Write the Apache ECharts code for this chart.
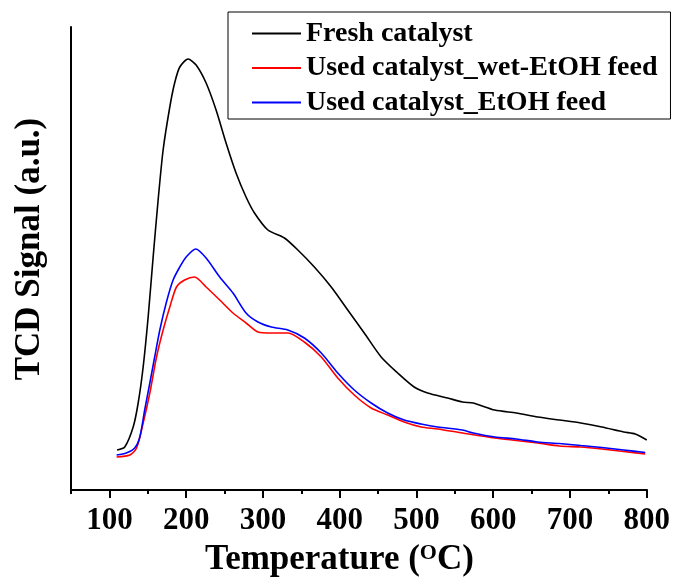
<!DOCTYPE html>
<html>
<head>
<meta charset="utf-8">
<script src="https://cdn.jsdelivr.net/npm/echarts@6/dist/echarts.min.js"></script>
<style>
html,body{margin:0;padding:0;background:#fff;}
#chart{width:673px;height:582px;}
</style>
</head>
<body>
<div id="chart"></div>
<script>
// Temperatures (°C) and TCD signal (arbitrary units)
var freshT = [110,120,131,137.5,144,150.5,157,163.5,170,178.7,185,191.7,202.5,213,226,239,252,265,278,289,306.5,328,345.5,367,389,410.5,432,454,475.5,497,514.5,540.5,560,574,602,630,658,686,714,741.5,770,785,800];
var freshV = [40,43,63,87,123,173,233,290,340,383,407,423,431,425,407,380,347,317,293,277,260,252,240,223,203,180,157,133,117,103,97,92,88,87,80,77,73,70,67,63,58,56,50];

var wetT = [109.4,126.7,135.4,144,152.7,161.4,170,178.7,187.4,198,211,226,243.7,261,278,293.5,311,332.5,354,376,397.5,419,441,462.5,484,506,527.5,560,602,630,658,686,714,741.5,770,798];
var wetV = [33,35,42,67,97,133,160,183,203,210,213,203,190,177,167,158,157,157,148,133,112,95,82,75,68,63,61,57,52,49.5,47,44,43,41,38.5,36];

var etohT = [109.4,122,133,139.7,146,152.7,159,165.7,174,183,191.7,200,212.5,226,243.7,261,278,293.5,311,332.5,354,376,397.5,419,441,462.5,484,506,527.5,560,574,602,630,658,686,714,741.5,770,798];
var etohV = [35,37,42,53,80,107,133,160,187,210,223,233,241,232,213,197,177,168,163,160,152,137,117,100,87,77,70,66,63,60,57,53,51,48,46.5,44.5,42.5,40,37.5];

var seriesNames = ['Fresh catalyst', 'Used catalyst_wet-EtOH feed', 'Used catalyst_EtOH feed'];
var seriesColors = ['#000000', '#ff0000', '#0000ff'];
var xTickLabels = [100,200,300,400,500,600,700,800];

function pairs(t, v){ return t.map(function(x,i){ return [x, v[i]]; }); }

var FONT = '"Liberation Serif","Times New Roman",serif';
var chart = echarts.init(document.getElementById('chart'));
chart.setOption({
  animation: false,
  backgroundColor: '#fff',
  grid: {left: 71, right: 26, top: 27, bottom: 92, containLabel: false},
  legend: {
    orient: 'vertical', left: 228, top: 12,
    padding: [5, 13, 0, 24],
    itemGap: 1.5, itemWidth: 49, itemHeight: 2,
    borderColor: '#000', borderWidth: 1,
    icon: 'rect',
    data: seriesNames,
    textStyle: {fontFamily: FONT, fontWeight: 'bold', fontSize: 28, color: '#000', lineHeight: 33}
  },
  xAxis: [
    {
      type: 'value', min: 50, max: 800, interval: 50, position: 'bottom',
      splitLine: {show: false},
      axisLine: {show: true, onZero: false, lineStyle: {color: '#000', width: 2}},
      axisTick: {show: true, inside: false, length: 4, lineStyle: {color: '#000', width: 2}},
      axisLabel: {show: true, customValues: xTickLabels, margin: 15, fontFamily: FONT, fontWeight: 'bold', fontSize: 31, color: '#000'}
    },
    {
      type: 'value', min: 50, max: 800, position: 'bottom', offset: 0,
      splitLine: {show: false},
      axisLine: {show: true, onZero: false, lineStyle: {color: '#000', width: 2}},
      axisTick: {show: true, inside: false, length: 8, lineStyle: {color: '#000', width: 2}, customValues: xTickLabels},
      axisLabel: {show: false}
    }
  ],
  yAxis: {
    type: 'value', min: 0, max: 463,
    axisLine: {show: true, onZero: false, lineStyle: {color: '#000', width: 2}},
    axisTick: {show: false}, axisLabel: {show: false}, splitLine: {show: false}
  },
  graphic: [
    {
      type: 'text', left: 205, top: 542,
      style: {
        text: 'Temperature ({sup|O}C)',
        font: 'bold 35px ' + FONT, fill: '#000',
        rich: {sup: {fontFamily: FONT, fontWeight: 'bold', fontSize: 22, verticalAlign: 'top', padding: [0,0,14,0], fill: '#000'}}
      }
    },
    {
      type: 'text', x: 30, y: 249, rotation: Math.PI / 2,
      style: {text: 'TCD Signal (a.u.)', font: 'bold 35px ' + FONT, fill: '#000', align: 'center', verticalAlign: 'middle'}
    }
  ],
  series: [
    {name: seriesNames[0], type: 'line', data: pairs(freshT, freshV), showSymbol: false, smooth: 0.25, color: seriesColors[0], lineStyle: {width: 1.6}},
    {name: seriesNames[1], type: 'line', data: pairs(wetT, wetV), showSymbol: false, smooth: 0.25, color: seriesColors[1], lineStyle: {width: 1.6}},
    {name: seriesNames[2], type: 'line', data: pairs(etohT, etohV), showSymbol: false, smooth: 0.25, color: seriesColors[2], lineStyle: {width: 1.6}}
  ]
});
</script>
</body>
</html>
